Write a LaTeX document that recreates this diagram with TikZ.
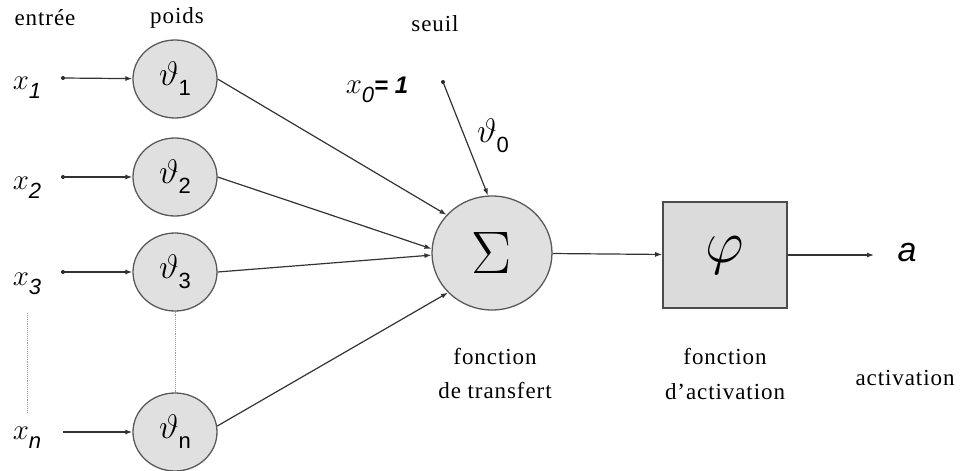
\RequirePackage{fix-cm}
\documentclass[tikz,border=0pt]{standalone}
\usepackage{fontspec}
\setmainfont{Liberation Serif}
\newfontfamily\arialf{Liberation Sans}
\newfontfamily\lblf{Liberation Serif}[LetterSpace=4,Ligatures=TeX]
\usetikzlibrary{arrows.meta,shapes.geometric}
\tikzset{
  wcirc/.style={ellipse, draw=black!65, line width=1.3pt, fill=black!12,
    minimum width=84pt, minimum height=78pt, inner sep=0pt},
  sumcirc/.style={ellipse, draw=black!65, line width=1.3pt, fill=black!12,
    minimum width=120pt, minimum height=114pt, inner sep=0pt},
  phibox/.style={rectangle, draw=black!70, line width=1.6pt, fill=black!14,
    minimum width=124pt, minimum height=106pt, inner sep=0pt},
  conn/.style={draw=black!80, line width=1.2pt, -{Latex[length=7pt,width=5pt]}},
  lbl/.style={inner sep=0pt},
  xlbl/.style={inner sep=0pt},
  dotline/.style={draw=black!40, line width=0.9pt, densely dotted},
}
\newcommand{\lt}[1]{{\lblf\fontsize{23}{26}\selectfont #1}}
\newcommand{\xsym}[1]{{\fontsize{29}{29}\selectfont$x$}\raisebox{-9pt}{\fontsize{22}{22}\selectfont\arialf\itshape #1}}
\newcommand{\wsym}[1]{{\fontsize{34}{34}\selectfont$\vartheta$}\raisebox{-10pt}{\fontsize{22}{22}\selectfont\arialf #1}}
\begin{document}
\begin{tikzpicture}[x=1pt,y=-1pt]
\useasboundingbox (0,0) rectangle (961,471);
% headers
\node[lbl] (hin) at (45,18) {\lt{entrée}};
\node[lbl] (hw) at (177,18) {\lt{poids}};
\node[lbl] (hs) at (435,24) {\lt{seuil}};
% input labels
\node[xlbl] (x1) at (27,88) {\xsym{1}};
\node[xlbl] (x2) at (27,188) {\xsym{2}};
\node[xlbl] (x3) at (27,284) {\xsym{3}};
\node[xlbl] (xn) at (27,438) {\xsym{n}};
% input points
\coordinate (i1) at (63,78);
\coordinate (i2) at (63,177);
\coordinate (i3) at (63,272);
\coordinate (in) at (63,432);
\foreach \p in {i1,i2,i3} \fill[black!85] (\p) circle (2pt);
% weight circles
\node[wcirc] (w1) at (175,79) {\wsym{1}};
\node[wcirc] (w2) at (175,177) {\wsym{2}};
\node[wcirc] (w3) at (175,272) {\wsym{3}};
\node[wcirc] (wn) at (175,432) {\wsym{n}};
\draw[conn] (i1) -- (w1);
\draw[conn] (i2) -- (w2);
\draw[conn] (i3) -- (w3);
\draw[conn] (in) -- (wn);
% dotted lines
\draw[dotline] (w3.south) -- (wn.north);
\coordinate (d1) at (27,313);
\coordinate (d2) at (27,412);
\draw[dotline] (d1) -- (d2);
% sum
\node[sumcirc] (sum) at (492,253) {{\fontsize{60}{60}\selectfont$\Sigma$}};
\draw[conn] (w1.east) -- (sum.140);
\draw[conn] (w2.east) -- (sum.176);
\draw[conn] (w3.east) -- (sum.182);
\draw[conn] (wn.8) -- (sum.222);
% threshold
\node[xlbl] (x0) at (377,90) {{\fontsize{29}{29}\selectfont$x$}\raisebox{-9pt}{\fontsize{22}{22}\selectfont\arialf\itshape 0}{\fontsize{24}{24}\selectfont\arialf\bfseries\itshape = 1}};
\coordinate (i0) at (443,82);
\fill[black!85] (i0) circle (2pt);
\draw[conn] (i0) -- (sum.94);
\node[xlbl] (w0) at (493,136) {\wsym{0}};
% activation box
\node[phibox] (phi) at (725,255) {{\fontsize{60}{60}\selectfont$\varphi$}};
\draw[conn] (sum) -- (phi);
\coordinate (out) at (874,255);
\draw[conn] (phi) -- (out);
\node[xlbl] (a) at (907,253) {\fontsize{34}{34}\selectfont\arialf\itshape a};
% bottom labels
\node[lbl] (ft1) at (495,357) {\lt{fonction}};
\node[lbl] (ft2) at (495,391) {\lt{de transfert}};
\node[lbl] (fa1) at (725,357) {\lt{fonction}};
\node[lbl] (fa2) at (725,392) {\lt{d’activation}};
\node[lbl] (act) at (905,378) {\lt{activation}};
\end{tikzpicture}
\end{document}
